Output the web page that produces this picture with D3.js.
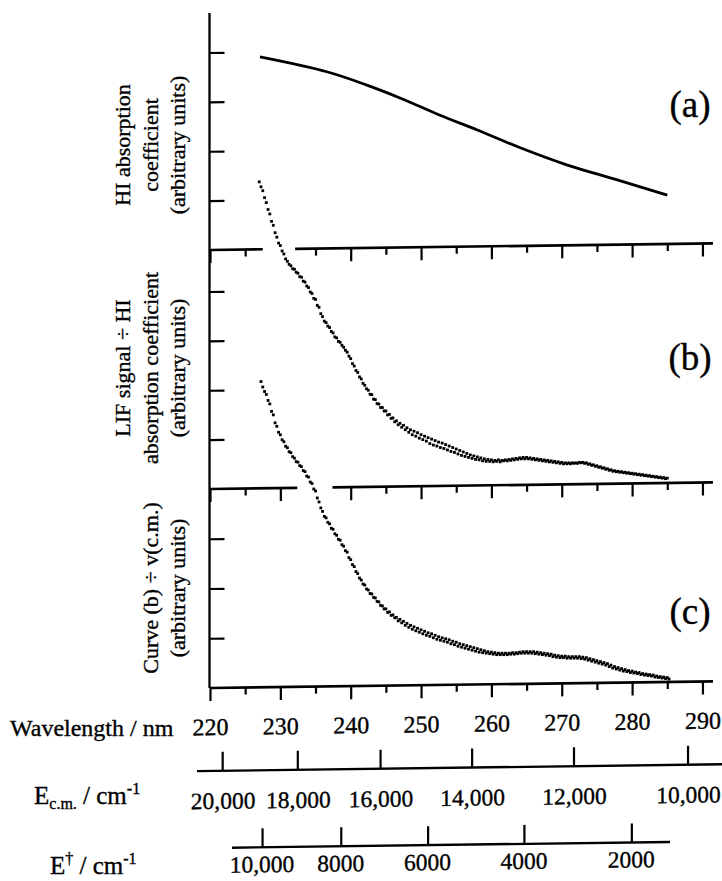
<!DOCTYPE html>
<html><head><meta charset="utf-8">
<script src="https://cdn.jsdelivr.net/npm/d3@7"></script>
<style>
body{margin:0;background:#fff}
text{font-family:"Liberation Serif","Times New Roman",serif;fill:#000;stroke:#000;stroke-width:0.35px}
</style>
</head><body>
<svg id="chart" width="722" height="881"></svg>
<script>
// ---------- data ----------
const wavelengthMajor = [220,230,240,250,260,270,280,290];
const wavelengthMinor = [225,235,245,255,265,275,285];
const ecmTicks = [20000,18000,16000,14000,12000,10000];
const ecmLabels = ["20,000","18,000","16,000","14,000","12,000","10,000"];
const edagTicks = [10000,8000,6000,4000,2000];
const edagLabels = ["10,000","8000","6000","4000","2000"];

const absWavelength = [227.1,236.6,242.3,247.0,252.7,258.0,264.1,270.8,277.9,285.0];
const absCoeff      = [3.91,3.61,3.34,3.08,2.73,2.43,2.07,1.72,1.42,1.11];

const lifStart = 227.0, curveStart = 227.25, sampleStep = 0.25;
const lifValues = [
6.22,6.12,6.04,5.90,5.80,5.66,5.57,5.42,5.34,5.19,5.10,4.98,4.93,4.82,4.76,4.66,4.61,4.55,4.52,4.46,
4.45,4.39,4.37,4.30,4.29,4.21,4.19,4.11,4.08,3.99,3.96,3.86,3.84,3.72,3.68,3.55,3.49,3.40,3.37,3.30,
3.27,3.19,3.16,3.08,3.06,2.99,2.97,2.91,2.87,2.81,2.77,2.69,2.64,2.54,2.49,2.40,2.36,2.27,2.23,2.14,
2.10,2.03,2.00,1.92,1.91,1.82,1.81,1.73,1.72,1.65,1.65,1.58,1.58,1.50,1.51,1.43,1.44,1.36,1.38,1.30,
1.33,1.25,1.29,1.20,1.24,1.15,1.20,1.10,1.17,1.07,1.14,1.03,1.10,1.00,1.07,0.97,1.04,0.92,1.01,0.89,
0.98,0.87,0.95,0.84,0.93,0.82,0.90,0.79,0.87,0.76,0.84,0.74,0.81,0.71,0.78,0.68,0.75,0.66,0.72,0.64,
0.69,0.62,0.67,0.60,0.65,0.59,0.63,0.57,0.61,0.56,0.60,0.56,0.59,0.55,0.58,0.56,0.59,0.55,0.58,0.57,
0.59,0.57,0.60,0.58,0.61,0.59,0.62,0.60,0.63,0.61,0.64,0.61,0.64,0.61,0.63,0.60,0.62,0.59,0.61,0.58,
0.60,0.57,0.59,0.56,0.58,0.55,0.57,0.54,0.56,0.53,0.55,0.52,0.54,0.51,0.53,0.51,0.53,0.51,0.53,0.52,
0.53,0.52,0.54,0.53,0.54,0.52,0.53,0.50,0.51,0.48,0.49,0.46,0.47,0.44,0.45,0.42,0.43,0.40,0.41,0.38,
0.39,0.36,0.37,0.35,0.36,0.34,0.35,0.33,0.34,0.32,0.33,0.31,0.32,0.30,0.31,0.29,0.30,0.28,0.29,0.27,
0.28,0.26,0.27,0.25,0.26,0.24,0.25,0.23,0.24,0.22,0.23,0.21,0.22];
const curveValues = [
6.16,6.05,5.96,5.90,5.78,5.71,5.56,5.49,5.33,5.26,5.14,5.09,4.99,4.95,4.86,4.83,4.75,4.73,4.65,4.62,
4.55,4.54,4.47,4.45,4.37,4.35,4.26,4.24,4.14,4.11,4.00,3.96,3.82,3.74,3.62,3.55,3.45,3.42,3.33,3.30,
3.21,3.19,3.10,3.07,2.99,2.97,2.88,2.85,2.76,2.73,2.62,2.58,2.48,2.44,2.34,2.30,2.21,2.17,2.09,2.07,
1.99,1.97,1.90,1.89,1.82,1.81,1.74,1.73,1.66,1.65,1.59,1.59,1.52,1.53,1.46,1.47,1.41,1.42,1.35,1.38,
1.31,1.34,1.26,1.30,1.22,1.26,1.18,1.23,1.15,1.20,1.12,1.17,1.09,1.14,1.06,1.11,1.04,1.09,1.01,1.06,
0.98,1.03,0.96,1.01,0.94,0.99,0.92,0.97,0.89,0.94,0.87,0.92,0.84,0.89,0.82,0.87,0.80,0.85,0.78,0.83,
0.76,0.81,0.74,0.79,0.72,0.77,0.71,0.75,0.70,0.73,0.69,0.72,0.68,0.71,0.67,0.70,0.67,0.70,0.67,0.70,
0.67,0.70,0.68,0.71,0.68,0.71,0.69,0.72,0.70,0.73,0.70,0.73,0.70,0.73,0.70,0.73,0.69,0.72,0.68,0.71,
0.67,0.70,0.66,0.69,0.65,0.68,0.63,0.66,0.62,0.65,0.61,0.64,0.61,0.64,0.60,0.63,0.60,0.63,0.60,0.63,
0.60,0.63,0.59,0.62,0.58,0.61,0.56,0.59,0.54,0.57,0.52,0.55,0.50,0.53,0.48,0.51,0.46,0.49,0.43,0.46,
0.40,0.43,0.38,0.41,0.36,0.39,0.34,0.37,0.33,0.35,0.31,0.34,0.30,0.32,0.29,0.31,0.27,0.29,0.26,0.28,
0.25,0.27,0.24,0.26,0.22,0.24,0.21,0.23,0.20,0.22,0.19,0.21,0.18];

// ---------- layout ----------
const svg = d3.select("#chart");
const x = d3.scaleLinear().domain([220, 291.5]).range([210, 713]);
const yA = d3.scaleLinear().domain([0, 4.8]).range([250, 13]);
const yB = d3.scaleLinear().domain([0, 4.84]).range([489, 250]);
const yC = d3.scaleLinear().domain([0, 4.0]).range([688, 489]);

// conversions of energy scales to wavelength positions
const lamFromEcm = e => 1e7 / (e / 0.965 + 24374);
const lamFromEdag = e => 1e7 / (e / 0.97 + 33666);

// axes frame carries the slight tilt of the printed original
const frame = svg.append("g").attr("transform", "translate(210,0) skewY(-0.75) translate(-210,0)");
const plot = svg.append("g");

frame.append("line").attr("x1", 209.5).attr("x2", 209.5).attr("y1", 13).attr("y2", 688)
  .attr("stroke", "#000").attr("stroke-width", 2.3);

function yTicks(scale, vals) {
  const g = frame.append("g").attr("transform", "translate(209.5,0)")
    .call(d3.axisRight(scale).tickValues(vals).tickSize(15).tickFormat(""));
  g.select(".domain").remove();
  g.selectAll("line").attr("stroke-width", 2.2);
}
yTicks(yA, [1,2,3,4]);
yTicks(yB, [1,2,3,4]);
yTicks(yC, [1,2,3]);

function separator(yPos, gap, labels) {
  const keep = t => !gap || t < gap[0] || t > gap[1];
  const gMaj = frame.append("g").attr("transform", `translate(0,${yPos})`)
    .call(d3.axisBottom(x).tickValues(wavelengthMajor.filter(keep)).tickSize(13).tickSizeOuter(0)
      .tickFormat(labels ? d3.format("d") : ""));
  gMaj.select(".domain").remove();
  gMaj.selectAll("line").attr("stroke-width", 2.2);
  if (labels) gMaj.selectAll("text").attr("font-size", 24).attr("dy", "1.3em")
      .style("font-family", '"Liberation Serif",serif');
  const gMin = frame.append("g").attr("transform", `translate(0,${yPos})`)
    .call(d3.axisBottom(x).tickValues(wavelengthMinor.filter(keep)).tickSize(7).tickFormat(""));
  gMin.select(".domain").remove();
  gMin.selectAll("line").attr("stroke-width", 2.2);
  const segs = gap ? [[220, gap[0]], [gap[1], 291.5]] : [[220, 291.5]];
  segs.forEach(s => frame.append("line").attr("x1", x(s[0])).attr("x2", x(s[1]))
    .attr("y1", yPos).attr("y2", yPos).attr("stroke", "#000").attr("stroke-width", 2.6));
}
separator(yA(0), [227.5, 232.1], false);
separator(yB(0), [232.4, 237.4], false);
separator(yC(0), null, true);

// panel (a) line
plot.append("path")
  .datum(absWavelength.map((w, i) => [w, absCoeff[i]]))
  .attr("fill", "none").attr("stroke", "#000").attr("stroke-width", 2.8)
  .attr("d", d3.line().x(d => x(d[0])).y(d => yA(d[1])).curve(d3.curveCatmullRom));

// panel (b) and (c) scatter
function dots(values, start, yScale) {
  plot.append("g").selectAll("rect").data(values).join("rect")
    .attr("x", (d, i) => x(start + i * sampleStep) - 1.4)
    .attr("y", d => yScale(d) - 1.4)
    .attr("width", 2.8).attr("height", 2.8).attr("fill", "#000");
}
dots(lifValues, lifStart, yB);
dots(curveValues, curveStart, yC);

// panel tags
[["(a)", 104], ["(b)", 357], ["(c)", 611]].forEach(([t, yy]) =>
  svg.append("text").attr("x", 690).attr("y", yy).attr("dy", "0.35em")
    .attr("text-anchor", "middle").attr("font-size", 37).text(t));

// y-axis titles (rotated)
function vlabel(lines, cy, xs) {
  lines.forEach((l, i) => svg.append("text")
    .attr("transform", `translate(${xs[i]},${cy}) rotate(-90)`)
    .attr("text-anchor", "middle").attr("dy", "0.35em").attr("font-size", 22).text(l));
}
vlabel(["HI absorption", "coefficient", "(arbitrary units)"], 145, [122, 150, 177]);
vlabel(["LIF signal \u00f7 HI", "absorption coefficient", "(arbitrary units)"], 368, [122, 150, 177]);
vlabel(["Curve (b) \u00f7 v(c.m.)", "(arbitrary units)"], 588, [150, 177]);

// wavelength title
svg.append("text").attr("x", 10).attr("y", 736).attr("font-size", 24).text("Wavelength / nm");

// E c.m. axis
const ecmY = 771;
frame.append("line").attr("x1", 197).attr("x2", 722).attr("y1", ecmY).attr("y2", ecmY)
  .attr("stroke", "#000").attr("stroke-width", 2.4);
const gE = frame.append("g").attr("transform", `translate(0,${ecmY})`)
  .call(d3.axisTop(x).tickValues(ecmTicks.map(lamFromEcm)).tickSize(19).tickFormat(""));
gE.select(".domain").remove();
gE.selectAll("line").attr("stroke-width", 2.2);
const gEl = frame.append("g");
ecmTicks.forEach((e, i) => gEl.append("text").attr("x", x(lamFromEcm(e)) + 1).attr("y", 809)
  .attr("text-anchor", "middle").attr("font-size", 23.5).text(ecmLabels[i]));
const tE = svg.append("text").attr("x", 34).attr("y", 804).attr("font-size", 25);
tE.append("tspan").text("E");
tE.append("tspan").attr("font-size", 16).attr("dy", 5).text("c.m.");
tE.append("tspan").attr("dy", -5).text(" / cm");
tE.append("tspan").attr("font-size", 16).attr("dy", -10).text("-1");

// E dagger axis
const edY = 848;
frame.append("line").attr("x1", 232).attr("x2", 670).attr("y1", edY).attr("y2", edY)
  .attr("stroke", "#000").attr("stroke-width", 2.4);
const gD = frame.append("g").attr("transform", `translate(0,${edY})`)
  .call(d3.axisTop(x).tickValues(edagTicks.map(lamFromEdag)).tickSize(19).tickFormat(""));
gD.select(".domain").remove();
gD.selectAll("line").attr("stroke-width", 2.2);
const gDl = frame.append("g");
edagTicks.forEach((e, i) => gDl.append("text").attr("x", x(lamFromEdag(e))).attr("y", 873)
  .attr("text-anchor", "middle").attr("font-size", 23.5).text(edagLabels[i]));
const tD = svg.append("text").attr("x", 50).attr("y", 874).attr("font-size", 25);
tD.append("tspan").text("E");
tD.append("tspan").attr("font-size", 16).attr("dy", -10).text("\u2020");
tD.append("tspan").attr("dy", 10).text(" / cm");
tD.append("tspan").attr("font-size", 16).attr("dy", -10).text("-1");
</script>
</body></html>
